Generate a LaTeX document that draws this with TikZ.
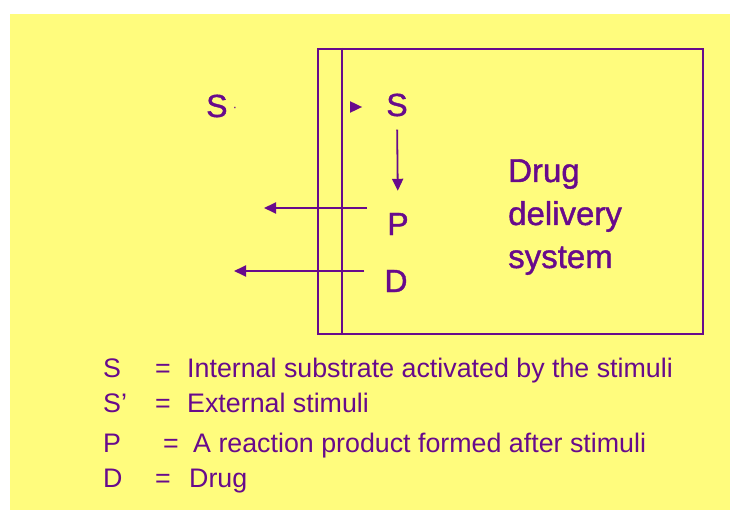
\documentclass[tikz,border=0pt]{standalone}
\usepackage{fontspec}
\setmainfont{Liberation Sans}
\newfontfamily\heavyface[FakeBold=1.2]{Liberation Sans}
\usetikzlibrary{arrows.meta}
\definecolor{pad}{RGB}{255,252,125}
\definecolor{ink}{RGB}{104,10,140}
\begin{document}
\begin{tikzpicture}[x=1pt,y=-1pt,
  frame/.style={draw=ink, line width=2.2pt},
  arr/.style={draw=ink, line width=1.8pt, -{Triangle[length=12pt,width=11pt]}},
  big/.style={text=ink, font=\heavyface\fontsize{32}{38}\selectfont, inner sep=0pt},
  title/.style={text=ink, font=\heavyface\fontsize{33}{43}\selectfont, inner sep=0pt, align=left, anchor=base west},
  legend/.style={text=ink, font=\fontsize{26.8}{30}\selectfont, inner sep=0pt, anchor=base west}]
  \useasboundingbox (0,0) rectangle (730,510);
  % page background
  \fill[pad] (10,14) rectangle (730,510);

  % the delivery system with its membrane
  \node[frame, minimum width=385pt, minimum height=285pt, inner sep=0pt] (dds) at (510.5,191.5) {};
  \draw[frame] ([xshift=25pt]dds.north west) -- ([xshift=25pt]dds.south west);

  % species
  \node[big, anchor=west] (sx) at (206,106) {S\hspace{6pt}\raisebox{9pt}{\fontsize{10}{10}\selectfont .}};
  \node[big] (s) at (397,105) {S};
  \node[big] (p) at (398,224) {P};
  \node[big] (d) at (396,281) {D};
  % base anchor of a multi-line node sits on its last line
  \node[title] (lbl) at (508,268) {Drug\\delivery\\system};

  % free ends of the release arrows
  \coordinate (pout) at (264,208);
  \coordinate (dout) at (234,271);

  % stimulus reaching the substrate
  \draw[arr] ([xshift=-36pt,yshift=-2pt]s.west) -- ([xshift=-24pt,yshift=-2pt]s.west);
  % substrate turns into product
  \draw[arr, shorten <=13pt, shorten >=22pt] (s.south) -- (p.north);
  % product and drug leave the system
  \draw[arr] ([xshift=-20pt,yshift=16pt]p.west) -- (pout);
  \draw[arr] ([xshift=-20pt,yshift=10pt]d.west) -- (dout);

  % key
  \node[legend] (k1s) at (103,377) {S};
  \node[legend] (k1e) at (155,377) {=};
  \node[legend] (k1t) at (187,377) {Internal substrate activated by the stimuli};
  \node[legend] (k2s) at (103,412) {S'};
  \node[legend] (k2e) at (155,412) {=};
  \node[legend] (k2t) at (187,412) {External stimuli};
  \node[legend] (k3s) at (103,452) {P};
  \node[legend] (k3e) at (163,452) {=};
  \node[legend] (k3t) at (193,452) {A reaction product formed after stimuli};
  \node[legend] (k4s) at (103,487) {D};
  \node[legend] (k4e) at (155,487) {=};
  \node[legend] (k4t) at (189,487) {Drug};
\end{tikzpicture}
\end{document}
